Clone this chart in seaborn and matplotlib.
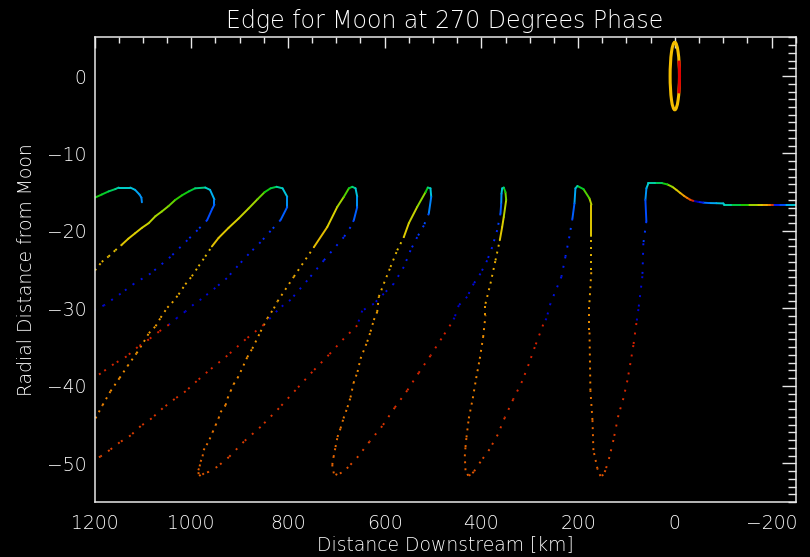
import numpy as np
import matplotlib
matplotlib.use("Agg")
import matplotlib.pyplot as plt
import seaborn as sns
from matplotlib.collections import LineCollection
from matplotlib.colors import LinearSegmentedColormap
from matplotlib.patches import Ellipse, Arc
from matplotlib.ticker import MultipleLocator

# ---------------------------------------------------------------------------
# Wake edge traced downstream of the moon.
# Each point: (distance downstream [km], radial distance, colour index 0..1)
# "up" branches climb to a crest, "down" branches fall away from it.
# ---------------------------------------------------------------------------
TAIL = [(-253.1, -16.6, .37), (-238.6, -16.6, .33), (-228.3, -16.6, .22), (-215.9, -16.6, .16),
        (-203.5, -16.6, .90), (-197.3, -16.6, .80), (-191.1, -16.6, .72), (-180.8, -16.6, .66),
        (-170.5, -16.6, .60), (-151.9, -16.6, .52), (-135.3, -16.6, .45), (-116.7, -16.6, .40),
        (-102.3, -16.6, .38), (-100.2, -16.45, .36), (-85.7, -16.42, .32), (-71.3, -16.4, .26),
        (-58.9, -16.35, .16), (-48.5, -16.25, .06), (-38.2, -16.12, .92), (-32.0, -15.98, .86),
        (-25.8, -15.75, .80), (-19.6, -15.5, .74), (-11.3, -15.1, .68), (-3.3, -14.7, .64),
        (5.0, -14.31, .58), (15.3, -14.0, .50), (25.6, -13.84, .44), (40.1, -13.84, .40),
        (54.6, -13.84, .37), (58.7, -14.5, .30), (60.8, -16.0, .22)]

D8 = [(58.8, -18.75, .20), (65.0, -21.6, .15), (67.0, -25.85, .12), (75.2, -30.1, .10),
      (79.4, -31.9, .93), (85.6, -34.75, .93), (91.8, -37.07, .92), (98.0, -39.3, .92),
      (106.2, -41.6, .91), (116.6, -43.8, .90), (126.9, -47.0, .89), (135.2, -49.2, .88),
      (143.4, -50.9, .87), (147.6, -51.5, .86)]

U7 = [(153.8, -51.65, .86), (160.0, -50.7, .85), (168.3, -48.3, .84), (170.3, -44.4, .82),
      (174.5, -40.6, .80), (176.5, -32.8, .77), (176.5, -29.2, .74), (172.4, -25.0, .70),
      (172.4, -20.7, .67), (172.4, -16.6, .62), (176.5, -15.8, .55), (188.9, -14.6, .47),
      (201.3, -14.2, .40)]

D7 = [(205.5, -14.5, .32), (207.5, -16.45, .24), (211.7, -18.4, .21), (217.9, -20.7, .18),
      (226.1, -23.3, .16), (234.4, -25.9, .14), (257.1, -29.35, .12), (265.4, -31.3, .10),
      (272.2, -32.1, .93), (289.6, -35.0, .93), (302.0, -37.2, .92), (315.6, -39.4, .92),
      (334.2, -41.75, .91), (351.6, -44.1, .90), (366.1, -46.3, .89), (383.2, -48.2, .88),
      (401.8, -49.8, .87), (415.7, -51.1, .86), (422.5, -51.5, .86), (427.2, -51.6, .85)]

U6 = [(432.8, -50.9, .85), (434.3, -49.1, .84), (432.8, -47.9, .84), (430.8, -46.65, .83),
      (426.0, -44.2, .82), (417.7, -41.6, .80), (410.7, -39.0, .79), (403.3, -36.5, .78),
      (396.3, -33.7, .77), (391.5, -30.9, .75), (391.5, -29.4, .74), (381.2, -26.8, .72),
      (370.8, -23.8, .70), (361.9, -21.2, .67), (357.0, -19.5, .65), (353.7, -18.2, .62),
      (348.7, -16.0, .57), (350.2, -15.0, .50), (353.7, -14.4, .42), (357.0, -14.5, .36)]

D6 = [(358.4, -15.2, .30), (359.0, -16.5, .24), (360.5, -17.75, .21), (367.3, -19.9, .18),
      (377.6, -22.1, .16), (388.0, -23.8, .14), (401.8, -25.5, .13), (415.7, -26.8, .12),
      (429.3, -28.5, .11), (446.7, -29.6, .10), (455.6, -31.2, .10), (463.8, -32.1, .93),
      (482.5, -33.9, .93), (505.2, -36.1, .92), (529.4, -38.3, .92), (553.3, -40.6, .91),
      (579.0, -42.8, .90), (605.0, -45.2, .90), (631.3, -47.2, .89), (654.6, -49.1, .88),
      (675.3, -50.5, .87), (689.1, -51.2, .86), (698.0, -51.5, .85)]

U5 = [(705.1, -51.3, .85), (708.4, -50.2, .84), (705.7, -49.2, .84), (701.6, -47.9, .83),
      (697.5, -46.6, .83), (691.3, -45.5, .82), (685.1, -44.2, .81), (676.8, -42.75, .80),
      (670.6, -41.5, .80), (664.4, -39.65, .79), (656.1, -38.2, .78), (649.9, -36.5, .77),
      (636.0, -34.3, .76), (629.2, -33.0, .76), (622.4, -31.5, .75), (615.4, -30.45, .74),
      (612.1, -28.5, .73), (601.7, -26.8, .72), (587.9, -24.65, .70), (574.0, -22.5, .68),
      (560.4, -20.8, .66), (550.0, -19.0, .63), (532.7, -16.9, .58), (515.5, -15.0, .50),
      (510.8, -14.4, .42), (505.2, -14.5, .36)]

D5 = [(503.7, -15.6, .28), (508.7, -17.75, .22), (519.0, -19.3, .20), (532.7, -20.8, .18),
      (546.5, -22.5, .16), (560.4, -24.65, .14), (581.0, -26.8, .13), (601.7, -28.1, .12),
      (622.4, -29.4, .11), (646.4, -30.3, .10), (656.7, -32.2, .93), (684.4, -33.9, .93),
      (715.4, -36.0, .92), (749.7, -38.2, .92), (784.2, -40.55, .91), (818.7, -42.9, .90),
      (856.6, -45.3, .90), (891.1, -47.2, .89), (922.1, -49.2, .88), (946.1, -50.45, .87),
      (963.4, -51.1, .86), (973.8, -51.3, .86), (980.6, -51.65, .85)]

U4 = [(984.7, -51.4, .85), (985.3, -50.9, .85), (982.6, -50.4, .84), (980.6, -49.8, .84),
      (976.5, -49.1, .84), (974.4, -48.3, .83), (968.2, -47.65, .83), (962.0, -46.9, .82),
      (955.8, -46.0, .82), (949.6, -45.1, .81), (943.4, -44.2, .81), (939.3, -43.4, .80),
      (929.0, -42.5, .80), (924.8, -41.6, .79), (918.6, -40.7, .79), (912.4, -39.8, .78),
      (904.2, -39.0, .78), (898.0, -38.2, .77), (884.1, -36.3, .77), (873.7, -35.2, .76),
      (856.6, -33.0, .75), (842.7, -31.3, .75), (829.1, -30.0, .74), (821.6, -29.1, .74),
      (787.7, -25.9, .72), (746.4, -22.1, .69), (718.7, -19.5, .65), (698.0, -16.9, .60),
      (684.4, -15.6, .55), (674.0, -14.5, .48), (667.0, -14.3, .42), (660.2, -14.5, .36)]

D4 = [(656.7, -15.6, .30), (656.7, -16.9, .24), (663.7, -18.6, .21), (670.5, -19.5, .19),
      (684.4, -20.8, .17), (725.7, -23.8, .15), (760.1, -26.4, .13), (794.6, -28.9, .12),
      (809.7, -29.6, .11), (822.1, -30.3, .10), (835.9, -31.2, .10), (849.8, -32.1, .93),
      (887.6, -34.0, .93), (925.4, -36.1, .92), (966.7, -38.2, .92), (988.8, -39.4, .91),
      (1011.5, -40.7, .91), (1034.3, -41.7, .90), (1059.1, -42.9, .90), (1081.8, -44.2, .90),
      (1104.6, -45.2, .89), (1125.2, -46.4, .89), (1148.0, -47.3, .89), (1168.7, -48.3, .88),
      (1187.3, -49.1, .88), (1199.7, -49.6, .88)]

H3_UP = [(1197.9, -44.2, .80), (1183.4, -42.5, .79), (1166.9, -40.7, .78), (1148.3, -39.0, .78),
         (1131.7, -37.45, .77), (1113.1, -35.8, .76), (1097.8, -34.3, .76), (1087.5, -33.2, .75),
         (1073.6, -32.3, .75), (1063.3, -31.2, .74), (1049.4, -29.9, .74), (1039.9, -29.3, .73),
         (1026.1, -28.2, .72), (1012.2, -26.9, .72), (998.6, -25.85, .71), (984.7, -24.55, .70),
         (970.9, -23.3, .69), (957.2, -22.0, .68), (943.4, -20.9, .67), (922.7, -19.6, .65),
         (902.1, -18.4, .63), (881.4, -17.1, .60), (862.8, -15.9, .56), (848.3, -15.0, .50),
         (835.9, -14.5, .45), (823.5, -14.3, .40), (811.1, -14.5, .36)]

H3_DOWN = [(801.4, -15.6, .30), (801.4, -16.9, .24), (815.2, -18.6, .21), (835.9, -20.0, .18),
           (856.6, -21.45, .16), (881.4, -23.0, .15), (904.2, -24.55, .14), (926.3, -26.1, .13),
           (950.2, -27.35, .12), (979.2, -28.8, .11), (995.1, -29.5, .11), (1012.2, -30.4, .10),
           (1028.8, -31.2, .10), (1046.1, -32.1, .93), (1066.8, -33.0, .93), (1087.5, -34.0, .93),
           (1110.8, -35.0, .92), (1133.6, -36.2, .92), (1160.5, -37.2, .92), (1187.3, -38.4, .91),
           (1199.7, -38.9, .91)]

H2_UP = [(1199.0, -25.1, .71), (1185.0, -24.0, .70), (1171.0, -23.3, .69), (1157.0, -22.5, .68),
         (1143.0, -21.75, .67), (1130.0, -21.0, .66), (1116.0, -20.3, .65), (1102.0, -19.6, .64),
         (1088.0, -19.0, .62), (1074.0, -18.1, .60), (1061.0, -17.5, .58), (1047.0, -16.8, .56),
         (1033.0, -16.0, .53), (1019.0, -15.4, .50), (1005.0, -14.9, .46), (992.0, -14.5, .42),
         (971.0, -14.4, .38), (961.0, -14.7, .33)]

H2_DOWN = [(952.0, -15.95, .28), (952.0, -16.6, .24), (957.0, -17.2, .22), (967.0, -18.6, .20),
           (987.0, -19.9, .18), (1008.0, -21.2, .16), (1043.0, -23.35, .15), (1084.0, -25.5, .14),
           (1118.0, -26.8, .13), (1146.0, -28.1, .12), (1180.0, -29.6, .11), (1201.0, -30.2, .11)]

H1 = [(1199.0, -15.7, .50), (1185.0, -15.3, .47), (1171.0, -14.9, .44), (1157.0, -14.6, .41),
      (1150.0, -14.4, .38), (1126.0, -14.4, .36), (1116.0, -14.7, .32), (1107.0, -15.3, .30),
      (1103.0, -15.7, .29), (1102.0, -16.3, .28)]

# Moon outline (centre, semi-axes) and its highlighted limb
MOON_CENTER = (0.0, 0.0)
MOON_HALF_WIDTH_KM = 9.7
MOON_HALF_HEIGHT = 4.36
LIMB_ANGLES = (167.0, 195.0)

X_TICKS = [1200, 1000, 800, 600, 400, 200, 0, -200]
X_TICK_LABELS = ["1200", "1000", "800", "600", "400", "200", "0", "\u2212200"]
Y_TICKS = [0, -10, -20, -30, -40, -50]
Y_TICK_LABELS = ["0", "\u221210", "\u221220", "\u221230", "\u221240", "\u221250"]

TITLE = "Edge for Moon at 270 Degrees Phase"
X_LABEL = "Distance Downstream [km]"
Y_LABEL = "Radial Distance from Moon"

# ---------------------------------------------------------------------------
FG = "#E8E8E8"
TXT = "#FFFFFF"
BG = "black"

sns.set_theme(style="dark", rc={
    "figure.facecolor": BG, "axes.facecolor": BG, "savefig.facecolor": BG,
    "axes.edgecolor": FG, "axes.labelcolor": TXT, "text.color": TXT,
    "xtick.color": FG, "ytick.color": FG, "axes.grid": False,
})
plt.rcParams["font.family"] = ["DejaVu Sans"]
plt.rcParams["font.weight"] = 200

wake_cmap = LinearSegmentedColormap.from_list("wake", [
    (0.00, (0.00, 0.00, 0.50)),
    (0.10, (0.00, 0.00, 0.82)),
    (0.18, (0.00, 0.15, 1.00)),
    (0.26, (0.00, 0.45, 1.00)),
    (0.33, (0.00, 0.70, 0.95)),
    (0.38, (0.00, 0.82, 0.80)),
    (0.46, (0.00, 0.80, 0.20)),
    (0.52, (0.10, 0.80, 0.00)),
    (0.58, (0.55, 0.85, 0.00)),
    (0.65, (0.86, 0.82, 0.00)),
    (0.72, (0.92, 0.68, 0.00)),
    (0.78, (0.95, 0.55, 0.00)),
    (0.85, (0.90, 0.38, 0.00)),
    (0.92, (0.85, 0.15, 0.00)),
    (1.00, (0.80, 0.00, 0.00)),
])

LW = 1.4
SOLID_ABOVE = {"up": -21.5, "down": -18.5, "crest": -99.0}
DOT_GAP = {"up": 2.6, "down": 3.9}


def draw_branch(ax, points, kind, lead=None):
    """Draw one branch as coloured segments: solid near the crest, dotted below."""
    pts = np.asarray(points, dtype=float)
    if lead is not None:
        pts = np.vstack([np.asarray(lead, dtype=float)[None, :], pts])
    xy = pts[:, :2]
    segs = np.stack([xy[:-1], xy[1:]], axis=1)
    cols = wake_cmap(pts[:-1, 2])
    mid_y = segs[:, :, 1].mean(axis=1)
    solid = mid_y > SOLID_ABOVE[kind]
    if solid.any():
        ax.add_collection(LineCollection(segs[solid], colors=cols[solid], linewidths=LW,
                                         capstyle="round", zorder=2))
    if (~solid).any():
        ax.add_collection(LineCollection(segs[~solid], colors=cols[~solid], linewidths=LW,
                                         linestyles=[(0, (1, DOT_GAP[kind]))],
                                         capstyle="butt", zorder=2))
    return pts[-1]


fig = plt.figure(figsize=(8.10, 5.57), dpi=100)
ax = fig.add_axes([94.5 / 810, 1 - 502 / 557, (795.7 - 94.5) / 810, (502 - 37.3) / 557])
ax.set_facecolor(BG)

# Main chain: tail near the moon, then alternating falls and climbs downstream
chain = [(TAIL, "crest"), (D8, "down"), (U7, "up"), (D7, "down"), (U6, "up"),
         (D6, "down"), (U5, "up"), (D5, "down"), (U4, "up"), (D4, "down")]
last = None
for pts, kind in chain:
    last = draw_branch(ax, pts, kind, lead=last)

last = draw_branch(ax, H3_UP, "up")
draw_branch(ax, H3_DOWN, "down", lead=last)
last = draw_branch(ax, H2_UP, "up")
draw_branch(ax, H2_DOWN, "down", lead=last)
draw_branch(ax, H1, "crest")

# Moon
ax.add_patch(Ellipse(MOON_CENTER, 2 * MOON_HALF_WIDTH_KM, 2 * MOON_HALF_HEIGHT,
                     fill=False, edgecolor="#F5BE00", linewidth=2.2, zorder=1.5))
ax.add_patch(Arc(MOON_CENTER, 2 * MOON_HALF_WIDTH_KM, 2 * MOON_HALF_HEIGHT,
                 theta1=LIMB_ANGLES[0], theta2=LIMB_ANGLES[1],
                 edgecolor="#E00000", linewidth=2.2, zorder=1.6))

ax.set_xlim(1200, -250)
ax.set_ylim(-55, 5)
ax.set_xticks(X_TICKS, X_TICK_LABELS)
ax.set_yticks(Y_TICKS, Y_TICK_LABELS)
ax.xaxis.set_minor_locator(MultipleLocator(50))
ax.yaxis.set_minor_locator(MultipleLocator(1))

ax.tick_params(which="both", direction="in", top=True, right=True, color=FG, width=1.0,
               labelcolor=TXT)
ax.tick_params(axis="x", which="major", length=8.0, pad=8.5, labelsize=13.5)
ax.tick_params(axis="x", which="minor", length=4.0)
ax.tick_params(axis="y", which="major", length=10.3, pad=5.8, labelsize=13.5)
ax.tick_params(axis="y", which="minor", length=5.5)

for sp in ax.spines.values():
    sp.set_color(FG)
    sp.set_linewidth(1.1)
    sp.set_visible(True)

ax.set_title(TITLE, fontsize=17, color=TXT, pad=7, fontweight=200)
ax.set_xlabel(X_LABEL, fontsize=13.5, color=TXT, labelpad=1.5, fontweight=200)
ax.set_ylabel(Y_LABEL, fontsize=13.5, color=TXT, labelpad=8, fontweight=200)

fig.savefig("out.png", dpi=100, facecolor=BG)
